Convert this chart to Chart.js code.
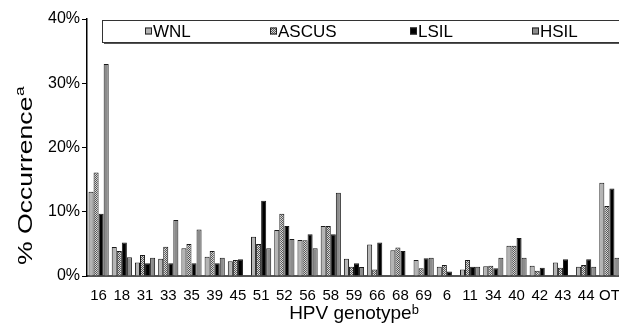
<!DOCTYPE html>
<html>
<head>
<meta charset="utf-8">
<script src="https://cdn.jsdelivr.net/npm/chart.js@4.4.0/dist/chart.umd.min.js"></script>
<style>
html,body{margin:0;padding:0;background:#fff;overflow:hidden;}
#wrap{width:619px;height:328px;position:relative;overflow:hidden;}
</style>
</head>
<body>
<div id="wrap"><canvas id="c" width="621" height="328"></canvas></div>
<script>
const categories = ['16','18','31','33','35','39','45','51','52','56','58','59','66','68','69','6','11','34','40','42','43','44','OT'];
const seriesNames = ['WNL','ASCUS','LSIL','HSIL'];
const wnl   = [13.1,4.5,2.1,2.7,4.3,3.0,2.3,6.1,7.15,5.6,7.8,2.7,4.9,4.0,2.5,1.45,1.0,1.5,4.7,1.6,2.1,1.45,14.5];
const ascus = [16.1,3.9,3.25,4.55,5.0,3.9,2.5,5.0,9.7,5.55,7.8,1.45,1.0,4.45,1.2,1.7,2.5,1.6,4.7,0.8,1.3,1.7,10.9];
const lsil  = [9.7,5.2,2.0,2.0,2.0,2.0,2.6,11.7,7.8,6.5,6.5,2.0,5.2,3.9,2.75,0.7,1.45,1.2,5.9,1.3,2.6,2.6,13.6];
const hsil  = [33.0,2.9,2.85,8.7,7.25,2.85,0,4.3,5.75,4.3,12.95,1.4,0,0,2.85,0,1.45,2.85,2.85,0,0,1.45,2.85];
const yTicks = [0,10,20,30,40];
const yTitle = '% Occurrence';
const yTitleSup = 'a';

function makePattern(){
  const p = document.createElement('canvas');
  p.width = 2; p.height = 2;
  const g = p.getContext('2d');
  g.fillStyle = '#d8d8d8'; g.fillRect(0,0,2,2);
  g.fillStyle = '#555'; g.fillRect(0,0,1,1); g.fillRect(1,1,1,1);
  return g.createPattern(p,'repeat');
}
const ctx = document.getElementById('c').getContext('2d');
const ascusFill = makePattern();
const FONT = "'Liberation Sans', Arial, Helvetica, sans-serif";

const fills = ['#b4b4b4', ascusFill, '#000000', '#8c8c8c'];
const values = [wnl, ascus, lsil, hsil];

const legendBox = {
  id: 'legendBox',
  afterDraw(chart){
    const c = chart.ctx;
    c.save();
    const x0 = 102, y0 = 20, w = 540, h = 22;
    c.fillStyle = '#555';
    c.fillRect(x0+2, y0+h, w, 2);
    c.fillStyle = '#fff';
    c.fillRect(x0, y0, w, h);
    c.strokeStyle = '#333';
    c.lineWidth = 1;
    c.strokeRect(x0+0.5, y0+0.5, w, h);
    const xs = [145, 270, 410, 532];
    c.font = '17px ' + FONT;
    c.textBaseline = 'middle';
    chart.data.datasets.forEach((ds, i) => {
      const sx = xs[i], sy = y0 + h/2 - 3.5;
      c.fillStyle = ds.backgroundColor;
      c.fillRect(sx, sy, 7, 7);
      c.strokeStyle = '#222';
      c.strokeRect(sx+0.5, sy+0.5, 6, 6);
      c.fillStyle = '#000';
      c.fillText(ds.label, sx + 8, y0 + h/2 + 1);
    });
    c.restore();
  }
};

const yTitlePlugin = {
  id: 'yTitlePlugin',
  afterDraw(chart){
    const c = chart.ctx;
    c.save();
    c.translate(32, 176);
    c.rotate(-Math.PI/2);
    c.scale(1.33, 1);
    c.fillStyle = '#000';
    c.textBaseline = 'alphabetic';
    c.font = '20px ' + FONT;
    const w1 = c.measureText(yTitle).width;
    c.font = '13px ' + FONT;
    const w2 = c.measureText(yTitleSup).width;
    const start = -(w1 + w2) / 2;
    c.font = '20px ' + FONT;
    c.fillText(yTitle, start, 0);
    c.font = '13px ' + FONT;
    c.fillText(yTitleSup, start + w1 + 0.5, -8);
    c.restore();
  }
};

new Chart(ctx, {
  type: 'bar',
  data: {
    labels: categories,
    datasets: seriesNames.map((n, i) => ({
      label: n,
      data: values[i],
      backgroundColor: fills[i],
      borderColor: '#1a1a1a',
      borderWidth: 1,
      borderSkipped: 'bottom',
      categoryPercentage: 0.87,
      barPercentage: 1.0
    }))
  },
  options: {
    responsive: false,
    animation: false,
    events: [],
    layout: { padding: { top: 19, left: 0, right: 0, bottom: 0 } },
    plugins: { legend: { display: false }, tooltip: { enabled: false } },
    scales: {
      x: {
        grid: { display: false, drawTicks: false },
        border: { display: true, color: '#555', width: 2 },
        ticks: { color: '#000', font: { family: FONT, size: 15 }, padding: 11, maxRotation: 0, autoSkip: false },
        title: { display: true, text: 'HPV genotypeᵇ', color: '#000', font: { family: FONT, size: 19 }, padding: { top: 0, bottom: 3 } },
        afterFit(s){ s.height = 52; s.paddingLeft = 0; s.paddingRight = 0; }
      },
      y: {
        min: 0, max: 40,
        afterBuildTicks(s){ s.ticks = yTicks.map(v => ({ value: v })); },
        grid: { drawOnChartArea: false, drawTicks: true, tickLength: 5, color: '#000' },
        border: { display: true, color: '#000', width: 1.5 },
        ticks: { color: '#000', font: { family: FONT, size: 16 }, padding: 2, callback: v => v + '%' },
        title: { display: false },
        afterFit(s){ s.width = 87; }
      }
    }
  },
  plugins: [legendBox, yTitlePlugin]
});
</script>
</body>
</html>
